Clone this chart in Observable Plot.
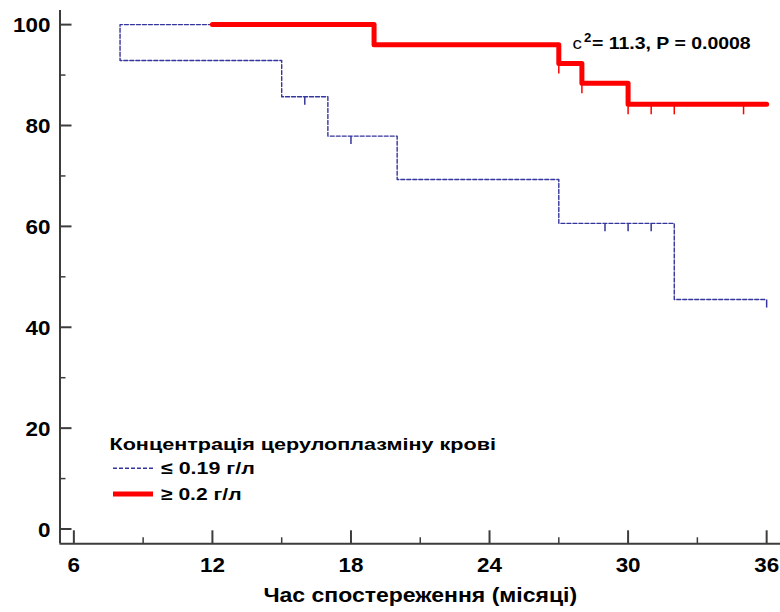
<!DOCTYPE html>
<html><head><meta charset="utf-8">
<script src="https://cdn.jsdelivr.net/npm/d3@7"></script>
<script src="https://cdn.jsdelivr.net/npm/@observablehq/plot@0.6"></script>
<style>
body{margin:0;background:#fff;}
#wrap{width:780px;height:612px;}
</style></head><body><div id="wrap"></div>
<script>
// ---- data ----
const startTime = 12;
const startSurvival = 100;
const endTime = 36;
// group "≤ 0.19 г/л"
const lowEventTimes = [8, 15, 17, 20, 27, 32];
const lowSurvival = [92.9, 85.7, 77.9, 69.3, 60.6, 45.5];
const lowCensorTimes = [16, 18, 29, 30, 31, 36];
// group "≥ 0.2 г/л"
const highEventTimes = [19, 27, 28, 30];
const highSurvival = [96, 92.3, 88.4, 84.2];
const highCensorTimes = [27, 28, 30, 31, 32, 35];
// ticks & labels
const xTicks = [6, 12, 18, 24, 30, 36];
const xMinorTicks = [9, 15, 21, 27, 33];
const yTicks = [0, 20, 40, 60, 80, 100];
const yMinorTicks = [10, 30, 50, 70, 90];
const xTitle = "Час спостереження (місяці)";
const legendTitle = "Концентрація церулоплазміну крові";
const groupNames = ["≤ 0.19 г/л", "≥ 0.2 г/л"];
const statText = "= 11.3, P = 0.0008";

// ---- styling ----
const FONT = "'Liberation Sans', Arial, Helvetica, sans-serif";
const AX = "#3c3c3c";
const BLUE = "#35359e";
const RED = "#ff0000";
const xDomain = [5.4, 36.6];
const yDomain = [-2.93, 102.8];
const STRETCH = 1.15;

function stepRows(times, surv) {
  const rows = [{t: startTime, s: startSurvival}, {t: times[0], s: startSurvival}];
  for (let i = 1; i < times.length; i++) rows.push({t: times[i], s: surv[i - 1]});
  rows.push({t: endTime, s: surv[surv.length - 1]});
  return rows;
}
function survAt(t, times, surv) {
  let s = startSurvival;
  times.forEach((e, i) => { if (e <= t) s = surv[i]; });
  return s;
}
const lowRows = stepRows(lowEventTimes, lowSurvival);
const highRows = stepRows(highEventTimes, highSurvival);
const lowCensor = lowCensorTimes.map(t => ({t, s: survAt(t, lowEventTimes, lowSurvival)}));
const highCensor = highCensorTimes.map(t => ({t, s: survAt(t, highEventTimes, highSurvival)}));

const tickDown = len => ({draw(ctx) { ctx.moveTo(0, 0); ctx.lineTo(0, len); }});

const chart = Plot.plot({
  width: 780, height: 612,
  marginLeft: 59.5, marginRight: 0, marginTop: 10, marginBottom: 68.7,
  style: {fontFamily: FONT, background: "white", overflow: "visible"},
  x: {domain: xDomain},
  y: {domain: yDomain},
  marks: [
    Plot.ruleX([xDomain[0]], {stroke: AX, strokeWidth: 2}),
    Plot.ruleY([yDomain[0]], {stroke: AX, strokeWidth: 2}),
    Plot.axisY(yTicks, {tickSize: 12, dx: 12, tickFormat: () => "", stroke: AX, strokeWidth: 2, label: null}),
    Plot.axisY(yMinorTicks, {tickSize: 6, dx: 6, tickFormat: () => "", stroke: AX, strokeWidth: 1.5, label: null}),
    Plot.axisY(yTicks, {tickSize: 0, tickPadding: 9.5, dy: 1.5, fontSize: 19.5, fontWeight: "bold", fill: "#000", label: null}),
    Plot.axisX(xTicks, {tickSize: 13, dy: -13, tickFormat: () => "", stroke: AX, strokeWidth: 2, label: null}),
    Plot.axisX(xMinorTicks, {tickSize: 6, dy: -6, tickFormat: () => "", stroke: AX, strokeWidth: 1.5, label: null}),
    Plot.axisX(xTicks, {tickSize: 0, tickPadding: 14.5, fontSize: 19.5, fontWeight: "bold", fill: "#000", label: null}),
    Plot.text([xTitle], {text: d => d, frameAnchor: "bottom", dy: 58, lineAnchor: "bottom", fontSize: 20, fontWeight: "bold", fill: "#000"}),
    Plot.line(lowRows, {x: "t", y: "s", curve: "step-before", stroke: BLUE, strokeWidth: 1.4, strokeDasharray: "4,2"}),
    Plot.dot(lowCensor, {x: "t", y: "s", symbol: tickDown(8), fill: "none", stroke: BLUE, strokeWidth: 1.5}),
    Plot.dot(highCensor, {x: "t", y: "s", symbol: tickDown(10), fill: "none", stroke: RED, strokeWidth: 1.5}),
    Plot.line(highRows, {x: "t", y: "s", curve: "step-before", stroke: RED, strokeWidth: 5, strokeLinejoin: "round"})
  ]
});

// stretch texts horizontally like the reference
d3.select(chart).selectAll("text").each(function () {
  const tr = this.getAttribute("transform");
  if (tr) this.setAttribute("transform", tr + ` scale(${STRETCH},1)`);
  else {
    const x = +this.getAttribute("x") || 0;
    this.setAttribute("transform", `translate(${x},0) scale(${STRETCH},1) translate(${-x},0)`);
  }
});

const svg = d3.select(chart);
// statistic annotation
const ann = svg.append("g").attr("font-family", FONT).attr("fill", "#000").attr("text-anchor", "start");
ann.append("text").attr("transform", "translate(572.5,49) scale(1.1,1)").attr("font-size", 17).text("c");
ann.append("text").attr("transform", "translate(584,42) scale(1.1,1)").attr("font-size", 12).attr("font-weight", "bold").text("2");
ann.append("text").attr("transform", "translate(592,49) scale(1.145,1)").attr("font-size", 17).attr("font-weight", "bold").text(statText);

// legend
const leg = svg.append("g").attr("font-family", FONT).attr("fill", "#000").attr("font-weight", "bold").attr("font-size", 17).attr("text-anchor", "start");
leg.append("text").attr("transform", `translate(109.5,450) scale(1.27,1)`).text(legendTitle);
leg.append("line").attr("x1", 113).attr("x2", 153).attr("y1", 468.3).attr("y2", 468.3)
  .attr("stroke", BLUE).attr("stroke-width", 1.4).attr("stroke-dasharray", "4,2");
leg.append("text").attr("transform", `translate(161,474) scale(1.26,1)`).text(groupNames[0]);
leg.append("line").attr("x1", 113).attr("x2", 153).attr("y1", 494).attr("y2", 494)
  .attr("stroke", RED).attr("stroke-width", 5);
leg.append("text").attr("transform", `translate(161,500) scale(1.24,1)`).text(groupNames[1]);

document.getElementById("wrap").appendChild(chart);
</script>
</body></html>
